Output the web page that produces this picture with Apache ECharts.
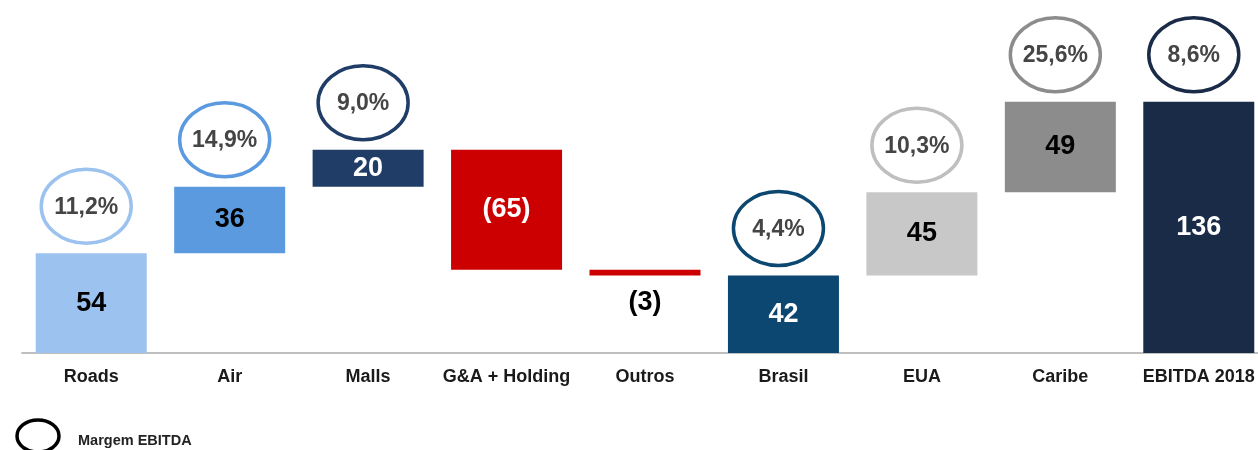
<!DOCTYPE html>
<html>
<head>
<meta charset="utf-8">
<script src="https://cdn.jsdelivr.net/npm/echarts@6/dist/echarts.min.js"></script>
<style>
html,body{margin:0;padding:0;background:#fff;}
#chart{width:1258px;height:450px;}
</style>
</head>
<body>
<div id="chart"></div>
<script>
// ---- data ----
const categories = ['Roads', 'Air', 'Malls', 'G&A + Holding', 'Outros', 'Brasil', 'EUA', 'Caribe', 'EBITDA 2018'];
const values = [54, 36, 20, -65, -3, 42, 45, 49, 136];
const startsAtZero = [true, false, false, false, false, true, false, false, true];
const margins = ['11,2%', '14,9%', '9,0%', null, null, '4,4%', '10,3%', '25,6%', '8,6%'];
const legendText = 'Margem EBITDA';

// ---- styles ----
const barColors = ['#9cc2ef', '#5c9ae0', '#1f3d66', '#cc0000', '#cc0000', '#0b4770', '#c8c8c8', '#8c8c8c', '#1a2b48'];
const labelColors = ['#000', '#000', '#fff', '#fff', '#000', '#fff', '#000', '#000', '#fff'];
const ringColors = ['#9cc2ef', '#5c9ae0', '#1f3d66', null, null, '#0b4770', '#bfbfbf', '#8c8c8c', '#1a2b48'];
const FONT = '"Liberation Sans", Arial, sans-serif';

// waterfall computation
const bases = [], heights = [], tops = [];
let running = 0;
values.forEach((v, i) => {
  const start = startsAtZero[i] ? 0 : running;
  const end = start + v;
  bases.push(Math.min(start, end));
  heights.push(Math.abs(v));
  tops.push(Math.max(start, end));
  running = end;
});

const fmt = v => v < 0 ? '(' + Math.abs(v) + ')' : String(v);

const visibleData = heights.map((h, i) => ({
  value: h,
  itemStyle: { color: barColors[i] },
  label: {
    show: true,
    position: i === 4 ? 'bottom' : 'inside',
    distance: 14,
    formatter: fmt(values[i]),
    color: labelColors[i],
    fontFamily: FONT,
    fontWeight: 'bold',
    fontSize: 27
  }
}));

const ringData = [];
margins.forEach((m, i) => { if (m) ringData.push([i, tops[i]]); });

const chart = echarts.init(document.getElementById('chart'), null, { renderer: 'canvas' });
chart.setOption({
  animation: false,
  backgroundColor: '#fff',
  grid: { left: 22, width: 1246, top: 2, bottom: 97, containLabel: false, outerBoundsMode: 'none' },
  xAxis: {
    type: 'category',
    data: categories,
    axisLine: { show: true, lineStyle: { color: '#bfbfbf', width: 2 } },
    axisTick: { show: false },
    axisLabel: { color: '#1a1a1a', fontFamily: FONT, fontWeight: 'bold', fontSize: 18, margin: 15, interval: 0 }
  },
  yAxis: {
    type: 'value', min: 0, max: 190, show: false, splitLine: { show: false }
  },
  series: [
    {
      type: 'bar', stack: 'w', barWidth: 111, silent: true,
      itemStyle: { color: 'transparent' },
      data: bases
    },
    {
      type: 'bar', stack: 'w', barWidth: 111,
      data: visibleData
    },
    {
      type: 'custom',
      clip: false,
      data: ringData,
      renderItem: function (params, api) {
        const idx = api.value(0);
        const p = api.coord([idx, api.value(1)]);
        const cx = p[0] - 5, cy = p[1] - 47;
        return {
          type: 'group',
          children: [
            { type: 'ellipse', shape: { cx: cx, cy: cy, rx: 45, ry: 37 },
              style: { fill: '#fff', stroke: ringColors[idx], lineWidth: 3.5 } },
            { type: 'text', x: cx, y: cy + 1,
              style: { text: margins[idx], align: 'center', verticalAlign: 'middle',
                       font: 'bold 23px ' + FONT, fill: '#454545' } }
          ]
        };
      }
    }
  ],
  graphic: [
    { type: 'ellipse', shape: { cx: 38, cy: 436, rx: 21, ry: 16 },
      style: { fill: 'none', stroke: '#000', lineWidth: 3.5 } },
    { type: 'text', x: 78, y: 441,
      style: { text: legendText, verticalAlign: 'middle', font: 'bold 14.5px ' + FONT, fill: '#222' } }
  ]
});
</script>
</body>
</html>
